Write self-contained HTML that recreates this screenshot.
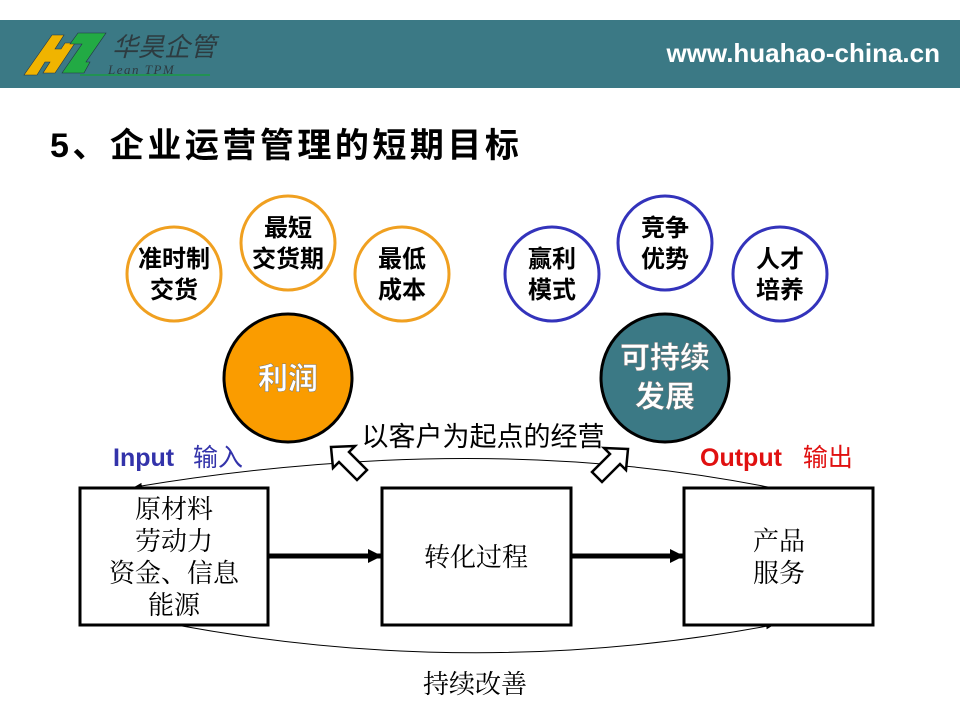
<!DOCTYPE html>
<html><head><meta charset="utf-8"><style>
body{margin:0;width:960px;height:720px;overflow:hidden;background:#fff;font-family:"Liberation Sans","Noto Sans CJK SC",sans-serif}
</style></head><body>
<svg width="960" height="720" xmlns="http://www.w3.org/2000/svg" style="position:absolute;left:0;top:0">
<defs>
<marker id="ah" markerWidth="14" markerHeight="14" refX="13" refY="7" orient="auto" markerUnits="userSpaceOnUse"><path d="M0,0 L14,7 L0,14 z" fill="#000"/></marker>
<marker id="sa" markerWidth="8" markerHeight="8" refX="7" refY="4" orient="auto" markerUnits="userSpaceOnUse"><path d="M0,1 L8,4 L0,7 z" fill="#000"/></marker>
</defs>
<rect x="0" y="20" width="960" height="68" fill="#3b7985"/>
<polygon points="24,75 52,35 64,35 55,49 61,49 65,43 75,43 55,73 43,73 50,62 45,62 37,75" fill="#f0b400" stroke="#234" stroke-width="0.6"/>
<polygon points="62,73 82,44 70,44 78,33 106,33 86,62 90,62 84,73" fill="#22aa44" stroke="#234" stroke-width="0.6"/>
<line x1="80" y1="75" x2="210" y2="75" stroke="#1a9a44" stroke-width="1.5"/>
<text x="112" y="56" font-size="26" fill="#2d3b40" font-style="italic" font-family="'Noto Sans CJK SC',sans-serif">华昊企管</text>
<text x="108" y="74" font-size="13" fill="#2d3b40" font-style="italic" font-family="'Liberation Serif',serif" letter-spacing="1.5">Lean TPM</text>
<text x="940" y="62" font-size="26" fill="#fff" font-weight="bold" text-anchor="end">www.huahao-china.cn</text>
<text x="50" y="157" font-size="34" font-weight="bold" fill="#000" letter-spacing="3.5">5、企业运营管理的短期目标</text>
<g fill="#fff" stroke="#f0a020" stroke-width="3">
<circle cx="174" cy="274" r="47"/><circle cx="288" cy="243" r="47"/><circle cx="402" cy="274" r="47"/>
</g>
<g fill="#fff" stroke="#3333bb" stroke-width="3">
<circle cx="552" cy="274" r="47"/><circle cx="665" cy="243" r="47"/><circle cx="780" cy="274" r="47"/>
</g>
<g font-size="24" font-weight="bold" text-anchor="middle" fill="#000">
<text x="174" y="267">准时制</text><text x="174" y="298">交货</text>
<text x="288" y="236">最短</text><text x="288" y="267">交货期</text>
<text x="402" y="267">最低</text><text x="402" y="298">成本</text>
<text x="552" y="267">赢利</text><text x="552" y="298">模式</text>
<text x="665" y="236">竞争</text><text x="665" y="267">优势</text>
<text x="780" y="267">人才</text><text x="780" y="298">培养</text>
</g>
<circle cx="288" cy="378" r="64" fill="#fa9c00" stroke="#000" stroke-width="3"/>
<circle cx="665" cy="378" r="64" fill="#3b7985" stroke="#000" stroke-width="3"/>
<g font-size="30" font-weight="bold" text-anchor="middle" fill="#fff" stroke="#777" stroke-width="0.5">
<text x="288" y="389">利润</text>
<text x="665" y="368">可持续</text><text x="665" y="407">发展</text>
</g>
<text x="113" y="466" font-size="25" font-weight="bold" fill="#3333aa">Input <tspan font-weight="normal" dx="12">输入</tspan></text>
<text x="700" y="466" font-size="25" font-weight="bold" fill="#e01010">Output <tspan font-weight="normal" dx="14">输出</tspan></text>
<text x="483" y="446" font-size="27" text-anchor="middle" fill="#000">以客户为起点的经营</text>
<path d="M768,487 Q480,430 135,487" fill="none" stroke="#000" stroke-width="1" marker-end="url(#sa)"/>
<path d="M182,626 Q480,680 773,625" fill="none" stroke="#000" stroke-width="1" marker-end="url(#sa)"/>
<polygon points="331,447 355,446 349,452 367,470 357,480 339,462 333,468" fill="#fff" stroke="#000" stroke-width="2.5"/>
<polygon points="628,449 604,448 610,454 592,472 602,482 620,464 626,470" fill="#fff" stroke="#000" stroke-width="2.5"/>
<g fill="#fff" stroke="#000" stroke-width="3">
<rect x="80" y="488" width="188" height="137"/>
<rect x="382" y="488" width="189" height="137"/>
<rect x="684" y="488" width="189" height="137"/>
</g>
<line x1="268" y1="556" x2="381" y2="556" stroke="#000" stroke-width="5" marker-end="url(#ah)"/>
<line x1="571" y1="556" x2="683" y2="556" stroke="#000" stroke-width="5" marker-end="url(#ah)"/>
<g font-size="26" text-anchor="middle" fill="#000" font-family="'Noto Serif CJK SC','Noto Sans CJK SC',serif">
<text x="174" y="518">原材料</text><text x="174" y="550">劳动力</text><text x="174" y="582">资金、信息</text><text x="174" y="614">能源</text>
<text x="476" y="566">转化过程</text>
<text x="779" y="550">产品</text><text x="779" y="582">服务</text>
<text x="475" y="693">持续改善</text>
</g>
</svg>
</body></html>
